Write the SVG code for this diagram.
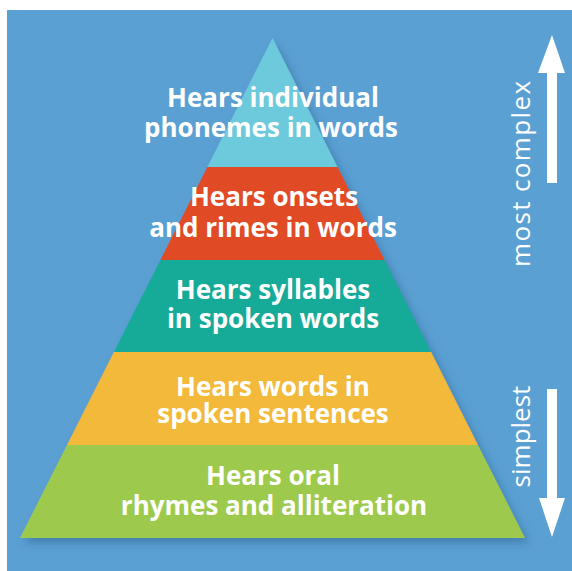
<svg xmlns="http://www.w3.org/2000/svg" width="572" height="571" viewBox="0 0 572 571">
<defs>
<filter id="sh" x="-10%" y="-10%" width="130%" height="130%">
<feDropShadow dx="4" dy="5" stdDeviation="4" flood-color="#2a5f8f" flood-opacity="0.5"/>
</filter>
<style>
.lbl{font-family:"Open Sans","Liberation Sans",sans-serif;font-weight:bold;font-size:26px;fill:#fff;text-anchor:middle}
.side{font-family:"Open Sans","Liberation Sans",sans-serif;font-size:26px;fill:#fff;text-anchor:middle}
.arr{fill:#fff}
</style>
</defs>
<rect x="0" y="0" width="572" height="571" fill="#fff"/>
<rect x="7" y="10" width="565" height="561" fill="#5ba0d3"/>
<g filter="url(#sh)">
<g id="band1"><polygon points="272.5,38 337.6,167 207.4,167" fill="#6dcadc"/></g>
<g id="band2"><polygon points="207.4,167 337.6,167 384.6,260 160.4,260" fill="#e04b25"/></g>
<g id="band3"><polygon points="160.4,260 384.6,260 431.1,352 113.9,352" fill="#16aa98"/></g>
<g id="band4"><polygon points="113.9,352 431.1,352 478,445 67,445" fill="#f2b93b"/></g>
<g id="band5"><polygon points="67,445 478,445 525,538 20,538" fill="#9dca4e"/></g>
</g>
<g id="labels">
<text class="lbl" x="273" y="107">Hears individual</text>
<text class="lbl" x="271" y="137">phonemes in words</text>
<text class="lbl" x="274" y="206">Hears onsets</text>
<text class="lbl" x="273" y="237">and rimes in words</text>
<text class="lbl" x="273" y="299">Hears syllables</text>
<text class="lbl" x="273" y="328">in spoken words</text>
<text class="lbl" x="273" y="396">Hears words in</text>
<text class="lbl" x="273" y="423">spoken sentences</text>
<text class="lbl" x="273" y="485">Hears oral</text>
<text class="lbl" x="274" y="515">rhymes and alliteration</text>
</g>
<g id="connectors">
<g id="arrow-up">
<polygon class="arr" points="552,35 565,73 557,73 557,183 547,183 547,73 538,73"/>
<text class="side" transform="translate(530,174) rotate(-90)" textLength="186" lengthAdjust="spacing">most complex</text>
</g>
<g id="arrow-down">
<polygon class="arr" points="547,389 557,389 557,498 565,498 552,537 539,498 547,498"/>
<text class="side" transform="translate(530,436.5) rotate(-90)">simplest</text>
</g>
</g>
</svg>
